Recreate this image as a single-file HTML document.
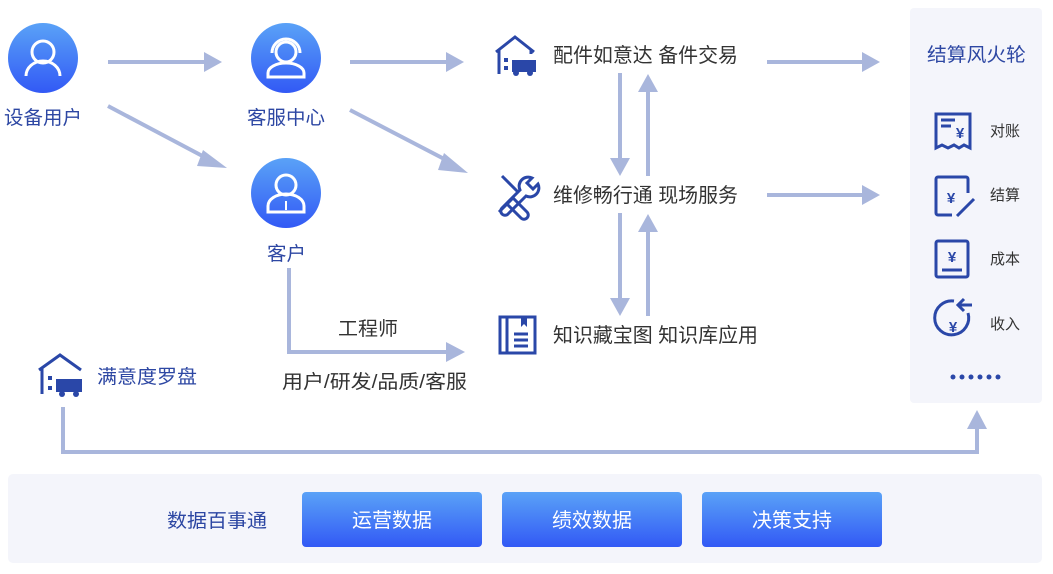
<!DOCTYPE html>
<html><head><meta charset="utf-8"><style>
body{margin:0;width:1053px;height:574px;background:#fff;overflow:hidden;font-family:"Liberation Sans","Noto Sans CJK SC",sans-serif}
svg{position:absolute;left:0;top:0}
text{font-family:"Liberation Sans","Noto Sans CJK SC",sans-serif}
</style></head><body>
<svg width="1053" height="574" viewBox="0 0 1053 574">
<defs>
<linearGradient id="g" x1="0" y1="0" x2="0" y2="1"><stop offset="0" stop-color="#5aa2f7"/><stop offset="1" stop-color="#3259f5"/></linearGradient>
</defs>
<g stroke="#a9b6dc" stroke-width="4" fill="none">
<path d="M108,62H204"/><path d="M204,52l18,10l-18,10z" fill="#a9b6dc" stroke="none"/>
<path d="M108,106L210,160"/><path d="M203,150l24,18l-30,-2z" fill="#a9b6dc" stroke="none"/>
<path d="M350,62H446"/><path d="M446,52l18,10l-18,10z" fill="#a9b6dc" stroke="none"/>
<path d="M350,110L450,162"/><path d="M444,153l24,20l-30,-3z" fill="#a9b6dc" stroke="none"/>
<path d="M767,62H862"/><path d="M862,52l18,10l-18,10z" fill="#a9b6dc" stroke="none"/>
<path d="M767,195H862"/><path d="M862,185l18,10l-18,10z" fill="#a9b6dc" stroke="none"/>
<path d="M620,73V158"/><path d="M610,158l10,18l10,-18z" fill="#a9b6dc" stroke="none"/>
<path d="M648,176V92"/><path d="M638,92l10,-18l10,18z" fill="#a9b6dc" stroke="none"/>
<path d="M620,213V298"/><path d="M610,298l10,18l10,-18z" fill="#a9b6dc" stroke="none"/>
<path d="M648,316V232"/><path d="M638,232l10,-18l10,18z" fill="#a9b6dc" stroke="none"/>
<path d="M289,268V352H448"/><path d="M446,342l19,10l-19,10z" fill="#a9b6dc" stroke="none"/>
<path d="M63,407V452H977V428"/><path d="M967,429l10,-19l10,19z" fill="#a9b6dc" stroke="none"/>
</g>
<circle cx="43" cy="58" r="35" fill="url(#g)"/>
<circle cx="286" cy="58" r="35" fill="url(#g)"/>
<circle cx="286" cy="193" r="35" fill="url(#g)"/>
<g stroke="#fff" stroke-width="3" fill="none">
<circle cx="43" cy="52" r="11"/><path d="M26,76a17,15 0 0 1 34,0"/>
<circle cx="286" cy="52" r="10"/><path d="M272,53a14,14 0 0 1 28,0"/><path d="M268,77v-4a18,10 0 0 1 36,0v4z"/>
<circle cx="286" cy="185" r="10"/><path d="M268,212v-6a18,12 0 0 1 36,0v6z"/><path d="M286,201v9" stroke-width="2"/>
</g>
<g font-size="19" fill="#2d47a3">
<text x="4" y="124" textLength="78" lengthAdjust="spacingAndGlyphs">设备用户</text>
<text x="247" y="124" textLength="78" lengthAdjust="spacingAndGlyphs">客服中心</text>
<text x="267" y="260" textLength="39" lengthAdjust="spacingAndGlyphs">客户</text>
</g>
<g fill="none" stroke="#2a47a8" stroke-width="3">
<path d="M496,52l19,-15l19,15"/><path d="M499,50v24"/><path d="M531,50v4"/>
<path d="M502,176l16,16"/><path d="M499,212l14,-14l14,14a4,4 0 0 1 -6,6l-14,-14"/>
<path d="M532,178a9,9 0 0 0 -12,12l-18,18a4,4 0 0 0 6,6l18,-18a9,9 0 0 0 12,-12l-5,5l-6,-6z"/>
<rect x="500" y="317" width="35" height="36"/><path d="M507,317v36M514,334h14M514,340h14M514,346h14"/>
</g>
<rect x="504" y="58" width="4" height="4" fill="#2a47a8"/><rect x="504" y="66" width="4" height="4" fill="#2a47a8"/>
<rect x="512" y="60" width="24" height="12" fill="#2a47a8"/><circle cx="516" cy="73" r="3" fill="#2a47a8"/><circle cx="530" cy="73" r="3" fill="#2a47a8"/>
<path d="M521,317v10l3,-3l3,3v-10z" fill="#2a47a8"/>
<g font-size="20" fill="#333">
<text x="553" y="62" textLength="185" lengthAdjust="spacingAndGlyphs">配件如意达 备件交易</text>
<text x="553" y="202" textLength="185" lengthAdjust="spacingAndGlyphs">维修畅行通 现场服务</text>
<text x="553" y="342" textLength="205" lengthAdjust="spacingAndGlyphs">知识藏宝图 知识库应用</text>
</g>
<text x="338" y="335" font-size="19" fill="#333" textLength="60" lengthAdjust="spacingAndGlyphs">工程师</text>
<text x="282" y="388" font-size="19" fill="#333" textLength="185" lengthAdjust="spacingAndGlyphs">用户/研发/品质/客服</text>
<g fill="none" stroke="#2a47a8" stroke-width="3"><path d="M39,370l21,-15l21,15"/><path d="M42,368v26"/></g>
<rect x="48" y="376" width="4" height="4" fill="#2a47a8"/><rect x="48" y="386" width="4" height="4" fill="#2a47a8"/>
<rect x="56" y="379" width="26" height="13" fill="#2a47a8"/><circle cx="62" cy="394" r="3" fill="#2a47a8"/><circle cx="76" cy="394" r="3" fill="#2a47a8"/>
<text x="97" y="383" font-size="19" fill="#2d47a3" textLength="100" lengthAdjust="spacingAndGlyphs">满意度罗盘</text>
<rect x="910" y="8" width="132" height="395" rx="4" fill="#f4f5fb"/>
<text x="927" y="61" font-size="19" fill="#2d47a3" textLength="99" lengthAdjust="spacingAndGlyphs">结算风火轮</text>
<g fill="none" stroke="#2a47a8" stroke-width="3">
<path d="M936,148v-34h34v34l-6,-3l-5,3l-5,-3l-6,3l-6,-3z"/><path d="M941,120h14M941,126h10"/>
<path d="M968,193v-14a2,2 0 0 0 -2,-2h-28a2,2 0 0 0 -2,2v34a2,2 0 0 0 2,2h14"/><path d="M974,199l-14,14l-3,3"/>
<rect x="936" y="241" width="32" height="36" rx="2"/><path d="M942,270h20"/>
<path d="M968,313a17,17 0 1 1 -14,-12"/><path d="M958,305h14M964,299l-6,6l6,6"/>
</g>
<g font-size="15" fill="#2a47a8" font-weight="bold" text-anchor="middle"><text x="960" y="138">¥</text><text x="951" y="203">¥</text><text x="952" y="262">¥</text><text x="953" y="332">¥</text></g>
<g font-size="15" fill="#333"><text x="990" y="136">对账</text><text x="990" y="200">结算</text><text x="990" y="264">成本</text><text x="990" y="329">收入</text></g>
<g fill="#2a47a8"><circle cx="953" cy="377" r="2.5"/><circle cx="962" cy="377" r="2.5"/><circle cx="971" cy="377" r="2.5"/><circle cx="980" cy="377" r="2.5"/><circle cx="989" cy="377" r="2.5"/><circle cx="998" cy="377" r="2.5"/></g>
<rect x="8" y="474" width="1034" height="89" rx="5" fill="#f4f5fb"/>
<text x="167" y="527" font-size="19" fill="#2d47a3" textLength="100" lengthAdjust="spacingAndGlyphs">数据百事通</text>
<rect x="302" y="492" width="180" height="55" rx="4" fill="url(#g)"/>
<rect x="502" y="492" width="180" height="55" rx="4" fill="url(#g)"/>
<rect x="702" y="492" width="180" height="55" rx="4" fill="url(#g)"/>
<g font-size="20" fill="#fff"><text x="352" y="527" textLength="80" lengthAdjust="spacingAndGlyphs">运营数据</text><text x="552" y="527" textLength="80" lengthAdjust="spacingAndGlyphs">绩效数据</text><text x="752" y="527" textLength="80" lengthAdjust="spacingAndGlyphs">决策支持</text></g>
</svg>
</body></html>
